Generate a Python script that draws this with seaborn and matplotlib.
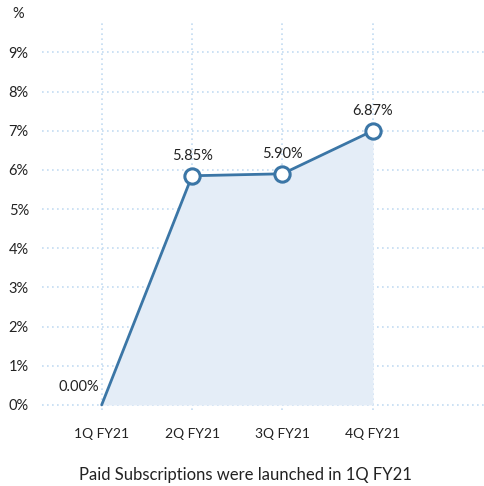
import matplotlib
matplotlib.use("Agg")
import matplotlib.pyplot as plt
import pandas as pd
import seaborn as sns

# ==========================================================
# Data
# ==========================================================

quarters = ["1Q FY21", "2Q FY21", "3Q FY21", "4Q FY21"]
share = [0.0, 5.85, 5.90, 7.0]
point_labels = ["0.00%", "5.85%", "5.90%", "6.87%"]
y_ticks = [0, 1, 2, 3, 4, 5, 6, 7, 8, 9]
note = "Paid Subscriptions were launched in 1Q FY21"

LINE = "#3b76a6"
FILL = "#e4edf7"
GRID = "#c3dcf2"
TEXT = "#222222"

sns.set_style("white")
plt.rcParams["font.family"] = ["Lato", "DejaVu Sans"]

df = pd.DataFrame({"x": range(len(quarters)), "share": share})

fig = plt.figure(figsize=(4.85, 4.86), dpi=100)
ax = fig.add_axes([42 / 485, 1 - 410 / 486, 443 / 485, 387 / 486])

ax.fill_between(df["x"], df["share"], 0, color=FILL, zorder=1, linewidth=0)
sns.lineplot(data=df, x="x", y="share", ax=ax, color=LINE, linewidth=2,
             zorder=3)
ax.plot(df["x"][1:], df["share"][1:], "o", ms=11, mfc="white", mec=LINE,
        mew=2.2, zorder=4)

for i, (v, lab) in enumerate(zip(share, point_labels)):
    if i == 0:
        ax.annotate(lab, (i, v), xytext=(-2, 13), textcoords="offset points",
                    ha="right", va="center", fontsize=10.5, color=TEXT)
    else:
        ax.annotate(lab, (i, v), xytext=(0, 14), textcoords="offset points",
                    ha="center", va="center", fontsize=10.5, color=TEXT)

ax.set_xlim(-0.66, 4.24)
ax.set_ylim(-0.13, 9.75)
ax.set_xticks(range(len(quarters)))
ax.set_xticklabels(quarters)
ax.set_yticks(y_ticks)
ax.set_yticklabels([f"{t}%" for t in y_ticks])
for lab in ax.get_yticklabels():
    lab.set_horizontalalignment("left")
ax.tick_params(axis="y", length=0, pad=24, labelsize=10.5, labelcolor=TEXT)
ax.tick_params(axis="x", length=0, pad=13, labelsize=10, labelcolor=TEXT)

ax.grid(True, color=GRID, linestyle=(0, (1, 2)), linewidth=1.2, zorder=0)
ax.set_axisbelow(True)
for s in ax.spines.values():
    s.set_visible(False)

ax.set_xlabel("")
ax.set_ylabel("")

fig.text(12 / 485, 1 - 14 / 486, "%", fontsize=10.5, color=TEXT,
         ha="left", va="center")
fig.text(245 / 485, 1 - 475 / 486, note, fontsize=12, color=TEXT,
         ha="center", va="center")

fig.savefig("out.png", dpi=100)
plt.close(fig)
